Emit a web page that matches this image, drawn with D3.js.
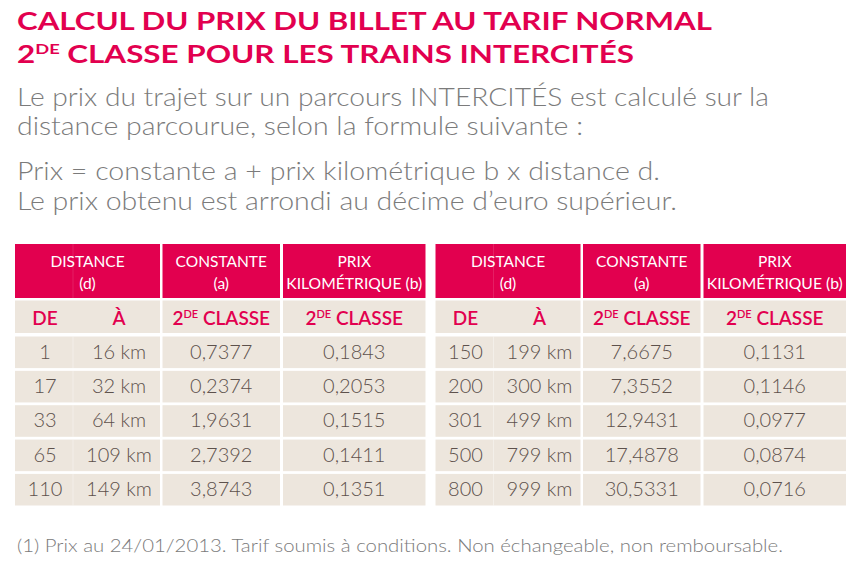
<!DOCTYPE html>
<html><head><meta charset="utf-8">
<script src="https://cdn.jsdelivr.net/npm/d3@7"></script>
<style>html,body{margin:0;padding:0;background:#fff;} svg{display:block}</style>
</head><body><div id="chart"></div>
<script>
// ---------- data ----------
const titleLine1 = "CALCUL DU PRIX DU BILLET AU TARIF NORMAL";
const titleLine2 = ["2", "DE", " CLASSE POUR LES TRAINS INTERCITÉS"];
const introLines = ["Le prix du trajet sur un parcours INTERCITÉS est calculé sur la",
                    "distance parcourue, selon la formule suivante :"];
const formulaLines = ["Prix = constante a + prix kilométrique b x distance d.",
                      "Le prix obtenu est arrondi au décime d’euro supérieur."];
const headerLines = [["DISTANCE", "(d)"], ["CONSTANTE", "(a)"], ["PRIX", "KILOMÉTRIQUE (b)"]];
const subHeaders = ["DE", "À", "2|DE| CLASSE", "2|DE| CLASSE"];
const distFrom = [1, 17, 33, 65, 110, 150, 200, 301, 500, 800];
const distTo   = [16, 32, 64, 109, 149, 199, 300, 499, 799, 999];
const constA   = [0.7377, 0.2374, 1.9631, 2.7392, 3.8743, 7.6675, 7.3552, 12.9431, 17.4878, 30.5331];
const prixB    = [0.1843, 0.2053, 0.1515, 0.1411, 0.1351, 0.1131, 0.1146, 0.0977, 0.0874, 0.0716];
const footnote = "(1) Prix au 24/01/2013. Tarif soumis à conditions. Non échangeable, non remboursable.";

// ---------- style / layout ----------
const W = 861, H = 567;
const PINK = "#e2004f", BEIGE = "#ede6dd", GREY = "#7b7b7b", DATA = "#5d514c";
const FONT = "Lato, 'Open Sans', sans-serif";
const fr = d3.formatLocale({decimal: ",", thousands: " ", grouping: [3], currency: ["", " €"]});
const f4 = fr.format(".4f");

const svg = d3.select("#chart").append("svg").attr("width", W).attr("height", H)
  .style("background", "#fff");

function fit(sel, target) {
  const w = sel.node().getComputedTextLength();
  if (w > 0) sel.attr("textLength", target).attr("lengthAdjust", "spacingAndGlyphs");
}

// Title
const t1 = svg.append("text").attr("x", 17).attr("y", 30).attr("fill", PINK)
  .attr("font-family", FONT).attr("font-weight", 700).attr("font-size", 24)
  .text(titleLine1);
fit(t1, 695);
const t2 = svg.append("text").attr("x", 17).attr("y", 63).attr("fill", PINK)
  .attr("font-family", FONT).attr("font-weight", 700).attr("font-size", 24);
t2.append("tspan").text(titleLine2[0]);
t2.append("tspan").attr("font-size", 14).attr("dy", -9).text(titleLine2[1]);
t2.append("tspan").attr("dy", 9).text(titleLine2[2]);
fit(t2, 617);

// Paragraphs
const introY = [106, 135], formulaY = [180, 210];
const introW = [752, 566], formulaW = [643, 660];
introLines.forEach((s, i) => {
  const t = svg.append("text").attr("x", 17).attr("y", introY[i]).attr("fill", GREY)
    .attr("font-family", FONT).attr("font-weight", 300).attr("font-size", 26).text(s);
  fit(t, introW[i]);
});
formulaLines.forEach((s, i) => {
  const t = svg.append("text").attr("x", 17).attr("y", formulaY[i]).attr("fill", GREY)
    .attr("font-family", FONT).attr("font-weight", 300).attr("font-size", 26).text(s);
  fit(t, formulaW[i]);
});

// ---------- tables ----------
const panels = [0, 1];
const panelX = d3.scaleBand().domain(panels).range([15, 846]).paddingInner(0.0238);
const PW = panelX.bandwidth();
const cols = [{x0: 0, x1: 145}, {x0: 147.5, x1: 265}, {x0: 268, x1: PW}];
const head = {y0: 244, y1: 298};
const sub = {y0: 300.5, y1: 333};
const rowY = d3.scaleBand().domain(d3.range(5)).range([336.5, 505.5]).paddingInner(0.08);
const deX = 30, aX = 104;

panels.forEach(p => {
  const g = svg.append("g").attr("transform", `translate(${panelX(p)},0)`);
  // header cells
  cols.forEach((c, ci) => {
    g.append("rect").attr("x", c.x0).attr("y", head.y0).attr("width", c.x1 - c.x0)
      .attr("height", head.y1 - head.y0).attr("fill", PINK);
    headerLines[ci].forEach((s, li) => {
      const t = g.append("text").attr("x", (c.x0 + c.x1) / 2).attr("y", li ? 289 : 267)
        .attr("text-anchor", "middle").attr("fill", "#fff").attr("font-family", FONT)
        .attr("font-size", 15.5).text(s);
      if (s.length > 10) fit(t, 136);
    });
    g.append("rect").attr("x", c.x0).attr("y", sub.y0).attr("width", c.x1 - c.x0)
      .attr("height", sub.y1 - sub.y0).attr("fill", BEIGE);
  });
  // faint divider inside distance column
  g.append("line").attr("x1", 58).attr("x2", 58).attr("y1", head.y0).attr("y2", head.y1)
    .attr("stroke", "#fff").attr("stroke-opacity", 0.12);
  // sub headers
  const subX = [deX, aX, (cols[1].x0 + cols[1].x1) / 2, (cols[2].x0 + cols[2].x1) / 2];
  subHeaders.forEach((s, si) => {
    const parts = s.split("|");
    const t = g.append("text").attr("x", subX[si]).attr("y", 325).attr("text-anchor", "middle")
      .attr("fill", PINK).attr("font-family", FONT).attr("font-weight", 600).attr("font-size", 19);
    if (parts.length === 1) t.text(s);
    else {
      t.append("tspan").text(parts[0]);
      t.append("tspan").attr("font-size", 11).attr("dy", -7).text(parts[1]);
      t.append("tspan").attr("dy", 7).text(parts[2]);
    }
  });
  // data rows
  const rows = d3.range(5).map(r => p * 5 + r);
  const rg = g.selectAll("g.row").data(rows).join("g").attr("class", "row")
    .attr("transform", (d, r) => `translate(0,${rowY(r)})`);
  const bh = rowY.bandwidth();
  cols.forEach(c => {
    rg.append("rect").attr("x", c.x0).attr("width", c.x1 - c.x0).attr("height", bh).attr("fill", BEIGE);
  });
  rg.append("line").attr("x1", 58).attr("x2", 58).attr("y1", 0).attr("y2", bh)
    .attr("stroke", "#fff").attr("stroke-opacity", 0.35);
  const txt = (x, fn) => rg.append("text").attr("x", x).attr("y", bh / 2 + 6.5)
    .attr("text-anchor", "middle").attr("fill", DATA).attr("font-family", FONT)
    .attr("font-weight", 300).attr("font-size", 20).text(fn);
  txt(deX, d => distFrom[d]);
  txt(aX, d => distTo[d] + " km");
  txt((cols[1].x0 + cols[1].x1) / 2, d => f4(constA[d]));
  txt((cols[2].x0 + cols[2].x1) / 2, d => f4(prixB[d]));
});

// footnote
const fn = svg.append("text").attr("x", 17).attr("y", 552).attr("fill", GREY)
  .attr("font-family", FONT).attr("font-weight", 300).attr("font-size", 17).text(footnote);
fit(fn, 766);
</script></body></html>
